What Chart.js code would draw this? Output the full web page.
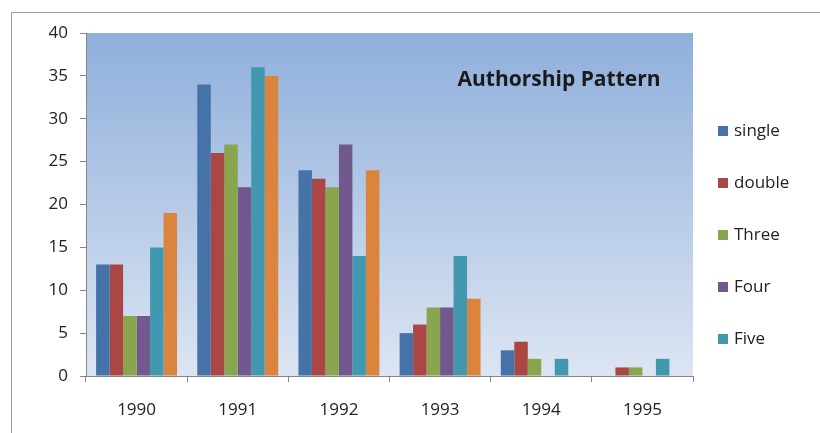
<!DOCTYPE html>
<html>
<head>
<meta charset="utf-8">
<script src="https://cdn.jsdelivr.net/npm/chart.js@4.4.0/dist/chart.umd.min.js"></script>
<style>
    html, body { margin: 0; padding: 0; background: #ffffff; }
    #wrap { position: relative; width: 820px; height: 433px; }
</style>
</head>
<body>
<div id="wrap"><canvas id="authorChart" width="820" height="433"></canvas></div>
<script>
// Chart data
const years = ['1990', '1991', '1992', '1993', '1994', '1995'];
const singleAuthor = [13, 34, 24, 5, 3, 0];
const doubleAuthor = [13, 26, 23, 6, 4, 1];
const threeAuthor = [7, 27, 22, 8, 2, 1];
const fourAuthor = [7, 22, 27, 8, 0, 0];
const fiveAuthor = [15, 36, 14, 14, 2, 2];
const moreAuthor = [19, 35, 24, 9, 0, 0]; // orange series, not shown in legend

const seriesNames = ['single', 'double', 'Three', 'Four', 'Five', ''];
const seriesColors = ['#4572A7', '#AA4643', '#89A54E', '#71588F', '#4198AF', '#DB843D'];
const chartTitle = 'Authorship Pattern';

const FONT = '"Open Sans", "DejaVu Sans", sans-serif';

// Frame, gradient plot area, title and legend
const excelLook = {
    id: 'excelLook',
    beforeDraw(chart) {
        const ctx = chart.ctx;
        const area = chart.chartArea;

        // outer frame
        ctx.save();
        ctx.strokeStyle = '#9a9a9a';
        ctx.lineWidth = 1;
        ctx.beginPath();
        ctx.moveTo(11.5, 433);
        ctx.lineTo(11.5, 12.5);
        ctx.lineTo(820, 12.5);
        ctx.stroke();

        // plot area gradient
        const grad = ctx.createLinearGradient(0, area.top, 0, area.bottom);
        grad.addColorStop(0, '#8FAFDC');
        grad.addColorStop(1, '#DCE5F2');
        ctx.fillStyle = grad;
        ctx.fillRect(area.left, area.top, area.right - area.left, area.bottom - area.top);
        ctx.restore();
    },
    afterDraw(chart) {
        const ctx = chart.ctx;
        const area = chart.chartArea;
        ctx.save();

        // title inside plot area
        ctx.fillStyle = '#1a1a1a';
        ctx.font = 'bold 21px ' + FONT;
        ctx.textAlign = 'center';
        ctx.textBaseline = 'middle';
        ctx.fillText(chartTitle, area.right - 134, 80);

        // legend on the right
        ctx.font = '17px ' + FONT;
        ctx.textAlign = 'left';
        let y = 131;
        chart.data.datasets.forEach(ds => {
            if (!ds.label) return;
            ctx.fillStyle = ds.backgroundColor;
            ctx.fillRect(area.right + 25, y - 5, 10, 10);
            ctx.fillStyle = '#222222';
            ctx.fillText(ds.label, area.right + 41, y);
            y += 52;
        });
        ctx.restore();
    }
};

function buildDatasets() {
    const values = [singleAuthor, doubleAuthor, threeAuthor, fourAuthor, fiveAuthor, moreAuthor];
    return values.map((v, i) => ({
        label: seriesNames[i],
        data: v,
        backgroundColor: seriesColors[i],
        borderWidth: 0,
        categoryPercentage: 0.8,
        barPercentage: 1.0
    }));
}

const ctx = document.getElementById('authorChart').getContext('2d');
new Chart(ctx, {
    type: 'bar',
    data: {
        labels: years,
        datasets: buildDatasets()
    },
    options: {
        responsive: false,
        animation: false,
        layout: { padding: { top: 33, right: 127, bottom: 0, left: 0 } },
        plugins: {
            legend: { display: false },
            title: { display: false },
            tooltip: { enabled: false }
        },
        scales: {
            x: {
                afterFit: s => { s.height = 57; },
                grid: {
                    offset: true,
                    drawOnChartArea: false,
                    drawTicks: true,
                    tickLength: 6,
                    color: '#868686'
                },
                border: { display: true, color: '#868686' },
                ticks: {
                    color: '#222222',
                    padding: 18,
                    font: { family: FONT, size: 17 }
                }
            },
            y: {
                min: 0,
                max: 40,
                afterFit: s => { s.width = 86; },
                grid: {
                    drawOnChartArea: false,
                    drawTicks: true,
                    tickLength: 6,
                    color: '#868686'
                },
                border: { display: true, color: '#868686' },
                ticks: {
                    stepSize: 5,
                    color: '#222222',
                    padding: 12,
                    font: { family: FONT, size: 17 }
                }
            }
        }
    },
    plugins: [excelLook]
});
</script>
</body>
</html>
